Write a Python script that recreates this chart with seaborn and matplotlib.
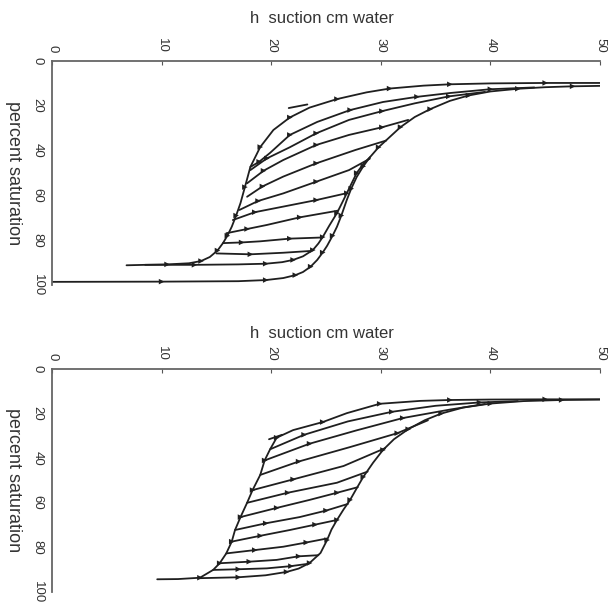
import numpy as np
import pandas as pd
import matplotlib
matplotlib.use("Agg")
import matplotlib.pyplot as plt
import seaborn as sns

# ---------------- data (h suction cm, percent saturation) ----------------
x_ticks = [0, 10, 20, 30, 40, 50]
y_ticks = [0, 20, 40, 60, 80, 100]
x_label = "h  suction cm water"
y_label = "percent saturation"

# top panel
top_initial_drainage = [(0, 98.6), (10, 98.5), (17, 98.3), (19.5, 97.8), (21.1, 96.9), (22.2, 95.6),
                        (22.9, 94.2), (23.6, 91.8), (24.2, 88.8), (24.7, 85.5), (25.1, 82.5), (25.6, 78),
                        (26, 74), (26.4, 69), (26.9, 62), (27.3, 57), (27.8, 51.8), (28.4, 47), (29, 43),
                        (29.8, 38.5), (30.8, 34), (31.8, 29.5), (33.1, 25), (34.5, 21.5), (36.3, 17.8),
                        (38, 15.4), (40, 13.6), (42.5, 12.4), (45, 11.7), (47.5, 11.3), (50, 11.1)]
top_main_wetting = [(50, 9.8), (45, 9.8), (40, 10.0), (36.3, 10.4), (33.9, 11.0), (30.8, 12.3), (28.7, 14.0),
                    (26, 17.0), (23.5, 20.8), (21.7, 25.2), (20.2, 30.8), (19, 38.4), (18.1, 47.3),
                    (17.6, 56.3), (17.2, 63.4), (16.8, 69), (16.4, 74), (16, 78), (15.6, 81.3), (15.1, 84.6),
                    (14.4, 87.5), (13.6, 89.3), (12.5, 90.3), (10.5, 90.8), (8.5, 91), (6.8, 91.2)]
top_main_drainage = [(8.5, 91), (13, 91), (17, 90.8), (19.5, 90.5), (21, 89.8), (22, 88.8), (22.9, 87.2),
                     (23.8, 84.4), (24.3, 81.5), (24.7, 78.6), (25.3, 73.5), (26, 67.9), (26.5, 63),
                     (26.9, 59), (27.4, 54), (27.8, 50), (28.4, 46), (29, 43)]
top_scan_0 = [(18.1, 47.3), (18.9, 45), (19.9, 41), (21.7, 33), (24.2, 27.2), (27.2, 21.9), (30.2, 18.3),
              (33.3, 16), (36.3, 14.3), (40, 12.6), (44, 11.8)]
top_scan_1 = [(18.1, 48.7), (19.6, 43.5), (21.7, 38.5), (24.1, 32.3), (27.1, 26.3), (30.1, 22.4),
              (33.1, 18.9), (36.2, 15.8), (39.5, 13.8)]
top_scan_2 = [(17.8, 54.6), (19.3, 49), (21.1, 44.2), (24.1, 37.5), (27.1, 33.0), (30.1, 29.6), (32.5, 26.3)]
top_scan_3 = [(17.8, 60.6), (19.2, 56), (21.1, 51.6), (24.1, 45.7), (27.7, 39.7), (30.5, 35.5)]
top_scan_4 = [(17.1, 66.5), (18.8, 62.5), (21.1, 59.1), (24.1, 53.9), (27.1, 48.7), (29.0, 43.6)]
top_scan_5 = [(16.5, 71), (18.5, 67.5), (21.1, 65), (24.1, 62.1), (26.9, 59)]
top_scan_6 = [(15.9, 76.9), (17.8, 75), (19.6, 73.2), (22.6, 69.8), (26.1, 66.8)]
top_scan_7 = [(15.6, 81.3), (17.3, 81), (19, 80.5), (21.7, 79.3), (24.6, 78.8)]
top_scan_8 = [(15.0, 85.9), (18.1, 86.3), (21.1, 85.6), (23.6, 84.8)]
top_hook = [(23.3, 19.4), (21.6, 21.0)]

# bottom panel
bot_wetting = [(50, 13.6), (45, 13.6), (40, 13.7), (36.3, 13.9), (33.6, 14.3), (29.9, 15.6), (26.9, 19.8),
               (24.7, 23.8), (22, 27.4), (20.5, 30.8), (19.9, 36), (19.4, 41), (19, 47.5), (18.3, 54.3),
               (17.8, 60), (17.2, 66.4), (16.7, 72.2), (16.4, 77.4), (15.9, 82.7), (15.3, 87.1),
               (14.7, 90.1), (13.5, 93.6), (11.5, 94.2), (9.6, 94.3)]
bot_drainage = [(13.5, 93.8), (17, 93.4), (19.5, 92.5), (21.4, 91), (22.5, 89.5), (23.5, 87), (24.5, 82.5),
                (25.1, 76.7), (25.5, 72), (26, 67.7), (26.6, 63), (27.2, 58.7), (27.8, 53.5), (28.4, 48.4),
                (29.3, 42), (30.2, 36.3), (31.2, 31.5), (32.5, 27), (34, 23), (35.5, 20), (37.5, 17.3),
                (40, 15.5), (43, 14.4), (46.5, 13.9), (50, 13.7)]
bot_scan_0 = [(19.9, 36), (23, 29.5), (27, 23.5), (31, 19.2), (35, 16.5), (39, 15), (42.5, 14.4)]
bot_scan_1 = [(19.4, 41), (23.5, 33.5), (27.8, 27.5), (32, 22), (36.3, 18.2), (39.5, 15.7)]
bot_scan_2 = [(19, 47.5), (22.5, 41.5), (27.2, 35), (31.5, 28.8), (34.3, 23)]
bot_scan_3 = [(18.3, 54.3), (22, 49.5), (26.6, 43.5), (30.4, 35.5)]
bot_scan_4 = [(17.8, 60), (21.5, 55.5), (26, 51), (28.8, 46)]
bot_scan_5 = [(17.2, 66.4), (20.5, 62.3), (23.5, 58.7), (26, 55.5), (27.9, 53)]
bot_scan_6 = [(16.7, 72.2), (19.5, 69.2), (22.6, 66.4), (25, 63.5), (27.0, 60.5)]
bot_scan_7 = [(16.4, 77.4), (19, 74.8), (21.7, 72.2), (24, 69.8), (26, 67.7)]
bot_scan_8 = [(15.9, 82.7), (18.5, 81.2), (21.1, 79.7), (23.2, 77.8), (25.1, 76)]
bot_scan_9 = [(15.3, 87.1), (18, 86.4), (20.5, 85.6), (22.5, 84), (24.3, 83.5)]
bot_scan_10 = [(14.7, 90.1), (17, 89.8), (19.6, 89.4), (21.8, 88.4), (23.3, 87.4)]
bot_hook = [(21.0, 29.5), (19.8, 31.5)]

panels = {
    "top": [top_initial_drainage, top_main_wetting, top_main_drainage, top_scan_0, top_scan_1,
            top_scan_2, top_scan_3, top_scan_4, top_scan_5, top_scan_6, top_scan_7, top_scan_8, top_hook],
    "bottom": [bot_wetting, bot_drainage, bot_scan_0, bot_scan_1, bot_scan_2, bot_scan_3, bot_scan_4,
               bot_scan_5, bot_scan_6, bot_scan_7, bot_scan_8, bot_scan_9, bot_scan_10, bot_hook],
}

rows = []
for pname, curves in panels.items():
    for ci, pts in enumerate(curves):
        for k, (h, s) in enumerate(pts):
            rows.append(dict(panel=pname, curve=ci, order=k, h=h, S=s,
                             inner=(0 < k < len(pts) - 1)))
df = pd.DataFrame(rows)

# ---------------- figure ----------------
sns.set_style("white")
plt.rcParams["font.family"] = ["Liberation Sans", "DejaVu Sans"]

fig = plt.figure(figsize=(6.08, 6.09), dpi=100)
ax_top = fig.add_axes([52 / 608, 1 - 285 / 609, 548 / 608, 224 / 609])
ax_bot = fig.add_axes([52 / 608, 1 - 592 / 609, 548 / 608, 223 / 609])

for ax, pname, title_y in [(ax_top, "top", 1.17), (ax_bot, "bottom", 1.139)]:
    sub = df[df.panel == pname]
    sns.lineplot(data=sub, x="h", y="S", units="curve", estimator=None, sort=False,
                 color="#1f1f1f", lw=1.3, legend=False, ax=ax)
    mk = sub[sub.inner & (sub.order % 2 == 1)]
    sns.scatterplot(data=mk, x="h", y="S", marker=">", s=16, color="#1f1f1f",
                    edgecolor="none", legend=False, ax=ax)

    ax.set_xlim(0, 50)
    ax.set_ylim(100, 0)
    ax.set_xticks(x_ticks)
    ax.set_yticks(y_ticks)
    ax.set_yticks(np.arange(10, 100, 20), minor=True)
    ax.xaxis.tick_top()
    ax.tick_params(axis="both", which="both", direction="in", length=3, width=0.8,
                   colors="#555555", labelcolor="#333333", labelsize=9.5)
    ax.tick_params(axis="y", which="minor", length=2)
    ax.tick_params(axis="x", labelrotation=-90, pad=6)
    ax.tick_params(axis="y", labelrotation=-90, pad=6)
    for lab in ax.get_yticklabels():
        lab.set_verticalalignment("center")
    for side in ["right", "bottom"]:
        ax.spines[side].set_visible(False)
    for side in ["left", "top"]:
        ax.spines[side].set_color("#666666")
        ax.spines[side].set_linewidth(1.3)

    ax.set_xlabel(x_label, fontsize=12, color="#333333")
    ax.xaxis.set_label_position("top")
    ax.xaxis.set_label_coords(0.493, title_y)
    ax.set_ylabel(y_label, fontsize=13, color="#333333", rotation=-90, va="center", ha="center")
    ax.yaxis.set_label_coords(-0.07, 0.5)

fig.savefig("out.png", dpi=100)
